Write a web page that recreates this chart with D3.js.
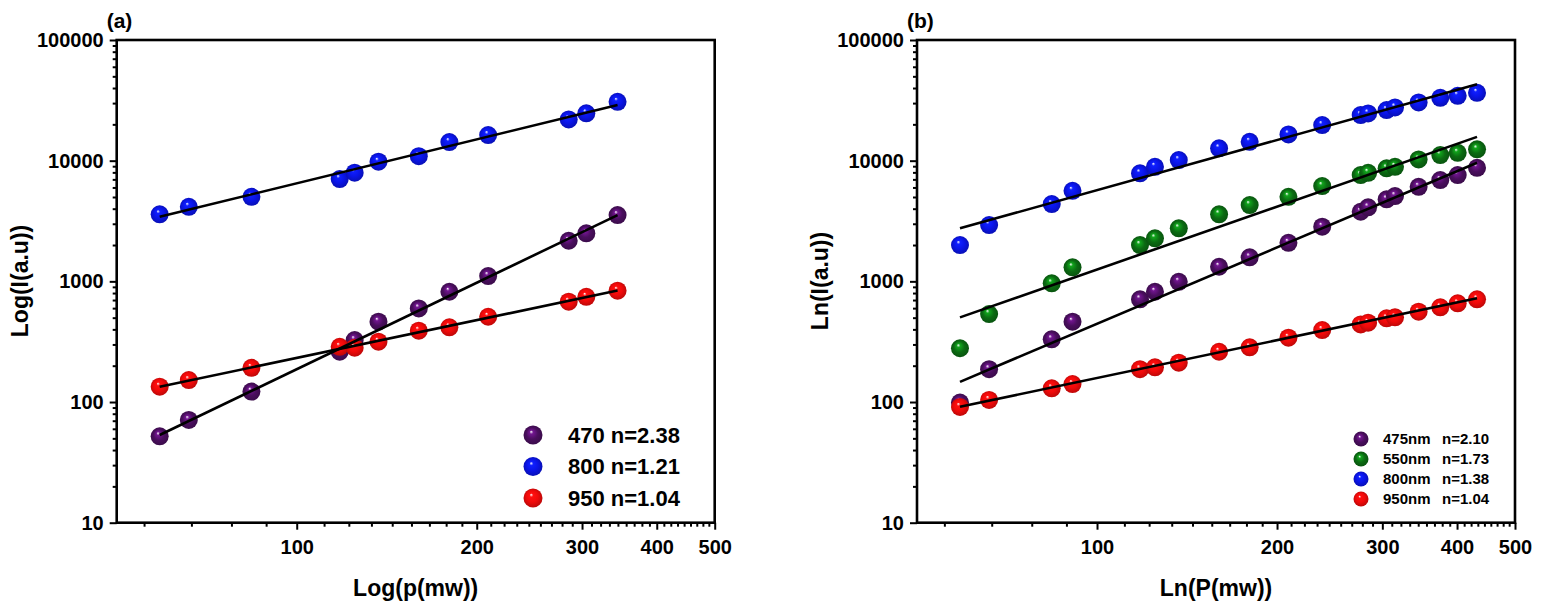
<!DOCTYPE html>
<html>
<head>
<meta charset="utf-8">
<script src="https://cdnjs.cloudflare.com/ajax/libs/d3/7.8.5/d3.min.js"></script>
<style>
  body { margin: 0; background: #fff; }
  text { font-family: Arial, "Liberation Sans", sans-serif; fill: #000; }
</style>
</head>
<body>
<div id="chart"></div>
<script>
var width = 1546;
var height = 612;

// ---- panel (a) data ----
var powerA = [59, 66, 84, 118, 125, 137, 160, 180, 209, 285, 305, 344];
var a470 = [52, 71, 122, 261, 326, 463, 597, 820, 1107, 2170, 2500, 3540];
var a800 = [3590, 4150, 5020, 7040, 7950, 9800, 10900, 14260, 16300, 21980, 24660, 30760];
var a950 = [134, 152, 192, 287, 282, 316, 390, 416, 509, 678, 745, 836];
var labelsA = ["470 n=2.38", "800 n=1.21", "950 n=1.04"];
// fitted power law: slope n and value at first power
var fitNA = [2.38, 1.21, 1.04];
var fitY0A = [53.3, 3428, 134];

// ---- panel (b) data ----
var powerB = [59, 66, 84, 91, 118, 125, 137, 160, 180, 209, 238, 276, 284, 305, 315, 345, 375, 401, 432];
var b475 = [99, 187, 331, 463, 710, 820, 992, 1321, 1581, 2088, 2835, 3773, 4104, 4779, 5091, 6079, 6907, 7598, 8733];
var b550 = [279, 536, 963, 1306, 1999, 2272, 2749, 3591, 4287, 5022, 6160, 7598, 7936, 8636, 8902, 10250, 11130, 11630, 12410];
var b800 = [1999, 2928, 4370, 5632, 7850, 8902, 10116, 12650, 14340, 16515, 19720, 23870, 24650, 26260, 27640, 30410, 33200, 34490, 36520];
var b950 = [91, 104, 130, 141, 187, 194, 212, 261, 284, 341, 395, 440, 454, 494, 503, 560, 609, 657, 710];
var namesB = ["475nm", "550nm", "800nm", "950nm"];
var nTextB = ["n=2.10", "n=1.73", "n=1.38", "n=1.04"];
var fitNB = [2.10, 1.73, 1.38, 1.04];
var fitY0B = [147, 503, 2750, 91.4];

var xMajor = [100, 200, 300, 400, 500];
var yMajor = [10, 100, 1000, 10000, 100000];

var colors = {
    purple: "#4a0e5e",
    blue: "#0a14e6",
    red: "#f00a0a",
    green: "#0b6b12"
};

var svg = d3.select("#chart").append("svg")
    .attr("width", width)
    .attr("height", height);

// sphere-like gradients
var defs = svg.append("defs");
Object.keys(colors).forEach(function(k) {
    var c = d3.color(colors[k]);
    var g = defs.append("radialGradient")
        .attr("id", "ball-" + k)
        .attr("cx", "50%").attr("cy", "50%").attr("r", "55%")
        .attr("fx", "40%").attr("fy", "32%");
    g.append("stop").attr("offset", "0%").attr("stop-color", "#ffffff");
    g.append("stop").attr("offset", "18%").attr("stop-color", c.brighter(1.2).formatHex());
    g.append("stop").attr("offset", "55%").attr("stop-color", c.formatHex());
    g.append("stop").attr("offset", "100%").attr("stop-color", c.darker(0.8).formatHex());
});

// minor ticks on x: Origin style, 8 linear steps inside each 100 interval
var xMinor = [];
for (var a = 0; a < 500; a += 100) {
    for (var k = 1; k <= 8; k++) {
        var v = a + 100 * k / 9;
        if (v > 50 && v < 500) xMinor.push(v);
    }
}
var yMinor = [];
yMajor.slice(0, -1).forEach(function(d) {
    for (var k = 2; k <= 9; k++) yMinor.push(d * k);
});

function drawPanel(opt) {
    var x = d3.scaleLog().domain([50, 500]).range([opt.left, opt.left + 598]);
    var y = d3.scaleLog().domain([10, 100000]).range([522.7, 40]);

    var g = svg.append("g");

    // axes
    var xMinAxis = d3.axisBottom(x).tickValues(xMinor).tickSize(4).tickFormat("");
    var xMajAxis = d3.axisBottom(x).tickValues(xMajor).tickSize(7).tickPadding(10)
        .tickFormat(d3.format("d"));
    var yMinAxis = d3.axisLeft(y).tickValues(yMinor).tickSize(4).tickFormat("");
    var yMajAxis = d3.axisLeft(y).tickValues(yMajor).tickSize(7).tickPadding(6)
        .tickFormat(d3.format("d"));

    [xMinAxis, xMajAxis].forEach(function(ax) {
        g.append("g").attr("transform", "translate(0,522.7)").call(ax);
    });
    [yMinAxis, yMajAxis].forEach(function(ax) {
        g.append("g").attr("transform", "translate(" + opt.left + ",0)").call(ax);
    });
    g.selectAll(".domain").remove();
    g.selectAll(".tick line").attr("stroke", "#000").attr("stroke-width", 2);
    g.selectAll(".tick text")
        .style("font-size", "20px")
        .style("font-weight", "bold")
        .style("font-family", "Arial, 'Liberation Sans', sans-serif")
        .attr("fill", "#000");

    g.append("rect")
        .attr("x", opt.left)
        .attr("y", 40)
        .attr("width", 598)
        .attr("height", 482.7)
        .attr("fill", "none")
        .attr("stroke", "#000")
        .attr("stroke-width", 2.6);

    // titles
    g.append("text")
        .attr("x", opt.left + 299)
        .attr("y", 596)
        .attr("text-anchor", "middle")
        .style("font-size", "23px")
        .style("font-weight", "bold")
        .text(opt.xTitle);

    g.append("text")
        .attr("transform", "translate(" + (opt.left - 97) + ",281) rotate(-90)")
        .attr("text-anchor", "middle")
        .attr("dy", "0.35em")
        .style("font-size", "23px")
        .style("font-weight", "bold")
        .text(opt.yTitle);

    g.append("text")
        .attr("x", opt.left - 10)
        .attr("y", 28)
        .style("font-size", "21px")
        .style("font-weight", "bold")
        .text(opt.tag);

    // markers
    opt.series.forEach(function(s) {
        g.append("g").selectAll("circle")
            .data(opt.power.map(function(p, i) { return [p, s.values[i]]; }))
            .enter()
            .append("circle")
            .attr("cx", function(d) { return x(d[0]); })
            .attr("cy", function(d) { return y(d[1]); })
            .attr("r", opt.r)
            .attr("fill", "url(#ball-" + s.color + ")");
    });

    // fitted lines (power law y = y0 * (p/p0)^n)
    var p0 = opt.power[0];
    var p1 = opt.power[opt.power.length - 1];
    opt.series.forEach(function(s) {
        var pts = [p0, p1].map(function(p) {
            return [p, s.y0 * Math.pow(p / p0, s.n)];
        });
        g.append("path")
            .datum(pts)
            .attr("fill", "none")
            .attr("stroke", "#000")
            .attr("stroke-width", 2.6)
            .attr("d", d3.line()
                .x(function(d) { return x(d[0]); })
                .y(function(d) { return y(d[1]); }));
    });

    return g;
}

var gA = drawPanel({
    left: 116.7,
    tag: "(a)",
    xTitle: "Log(p(mw))",
    yTitle: "Log(I(a.u))",
    power: powerA,
    r: 9,
    series: [
        { values: a470, color: "purple", n: fitNA[0], y0: fitY0A[0] },
        { values: a800, color: "blue", n: fitNA[1], y0: fitY0A[1] },
        { values: a950, color: "red", n: fitNA[2], y0: fitY0A[2] }
    ]
});

var gB = drawPanel({
    left: 917,
    tag: "(b)",
    xTitle: "Ln(P(mw))",
    yTitle: "Ln(I(a.u))",
    power: powerB,
    r: 9,
    series: [
        { values: b475, color: "purple", n: fitNB[0], y0: fitY0B[0] },
        { values: b550, color: "green", n: fitNB[1], y0: fitY0B[1] },
        { values: b800, color: "blue", n: fitNB[2], y0: fitY0B[2] },
        { values: b950, color: "red", n: fitNB[3], y0: fitY0B[3] }
    ]
});

// legend (a)
var legA = gA.append("g");
var legColorsA = ["purple", "blue", "red"];
labelsA.forEach(function(t, i) {
    var yy = 435 + i * 31.5;
    legA.append("circle")
        .attr("cx", 533).attr("cy", yy).attr("r", 9.5)
        .attr("fill", "url(#ball-" + legColorsA[i] + ")");
    legA.append("text")
        .attr("x", 568).attr("y", yy).attr("dy", "0.35em")
        .style("font-size", "22px")
        .style("font-weight", "bold")
        .text(t);
});

// legend (b)
var legB = gB.append("g");
var legColorsB = ["purple", "green", "blue", "red"];
namesB.forEach(function(t, i) {
    var yy = 439 + i * 20;
    legB.append("circle")
        .attr("cx", 1361).attr("cy", yy).attr("r", 7.5)
        .attr("fill", "url(#ball-" + legColorsB[i] + ")");
    legB.append("text")
        .attr("x", 1383).attr("y", yy).attr("dy", "0.35em")
        .style("font-size", "15px")
        .style("font-weight", "bold")
        .text(t);
    legB.append("text")
        .attr("x", 1442).attr("y", yy).attr("dy", "0.35em")
        .style("font-size", "15px")
        .style("font-weight", "bold")
        .text(nTextB[i]);
});
</script>
</body>
</html>
